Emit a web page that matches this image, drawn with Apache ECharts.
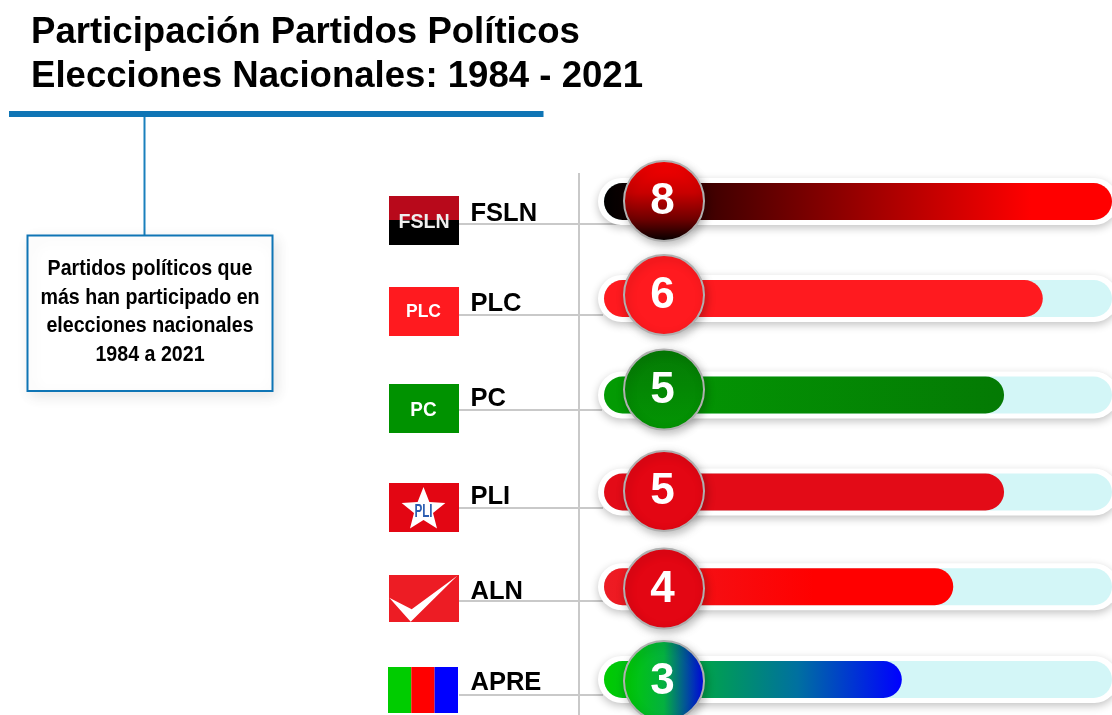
<!DOCTYPE html>
<html lang="es">
<head>
<meta charset="utf-8">
<title>Participación Partidos Políticos</title>
<style>html,body{margin:0;padding:0;background:#fff}#chart{width:1112px;height:715px}</style>
<script src="https://cdn.jsdelivr.net/npm/echarts@6/dist/echarts.min.js"></script>
</head>
<body>
<div id="chart"></div>
<script>
// ---- Data ----
const titleLines = ['Participación Partidos Políticos', 'Elecciones Nacionales: 1984 - 2021'];
const noteLines = ['Partidos políticos que', 'más han participado en', 'elecciones nacionales', '1984 a 2021'];
const parties = ['FSLN', 'PLC', 'PC', 'PLI', 'ALN', 'APRE'];
const participations = [8, 6, 5, 5, 4, 3];              // numbers printed on the badges
const barLengths = [8, 6.91, 6.3, 6.3, 5.5, 4.69];      // the drawn bars are not proportional to the badges
const fullScale = 8;

// ---- Layout ----
const rowCenters = [201.5, 298.5, 395, 492, 586.7, 679.5];
const badgeCenters = [201, 295, 389.5, 491, 588.5, 681];
const labelCenters = [214, 304, 399, 497, 592, 683];
const leaderYs = [224, 315, 410, 508, 601, 695];
const leaderEnds = [620, 603, 602, 603, 603, 603];
const logoTops = [196, 287, 384, 483, 575, 667];
const logoHeights = [49, 49, 49, 49, 47, 46];
const logoLeft = 389, logoWidth = 70;
const PAD = 6 / 63.5;                                    // white shell margin in axis units
const BADGE_X = 0.945;

const lg = (x2, y2, stops) => ({type:'linear',x:0,y:0,x2,y2,colorStops:stops.map(c=>({offset:c[0],color:c[1]}))});
const fillColors = [
  lg(1,0,[[0,'#000000'],[0.84,'#ff0000'],[1,'#ff0000']]),
  '#ff1a1f',
  lg(1,0,[[0,'#039b03'],[1,'#047a04']]),
  '#e30b17',
  lg(1,0,[[0,'#ed1c24'],[0.6,'#ff0000'],[1,'#ff0000']]),
  lg(1,0,[[0,'#00cc00'],[0.35,'#00a050'],[0.65,'#0070a0'],[1,'#0000ff']])
];
const badgeColors = [
  lg(0,1,[[0,'#ff0000'],[0.4,'#c80000'],[0.72,'#700000'],[1,'#000000']]),
  '#ff1a1f',
  lg(0,1,[[0,'#057a05'],[1,'#039503']]),
  '#e30613',
  '#e30613',
  lg(1,0,[[0,'#00cc00'],[0.5,'#04b040'],[1,'#0000e6']])
];

const FONT = '"Liberation Sans", Arial, sans-serif';
const grids = [], xAxes = [], yAxes = [], series = [];
parties.forEach((name, i) => {
  grids.push({left:598, width:520, top:rowCenters[i]-23.5, height:47, outerBoundsMode:'none'});
  xAxes.push(
    {gridIndex:i, type:'value', min:-PAD, max:fullScale+PAD, show:false},
    {gridIndex:i, type:'value', min:0, max:1, show:false}
  );
  yAxes.push(
    {gridIndex:i, type:'category', data:[name], axisLine:{show:false}, axisTick:{show:false}, splitLine:{show:false},
     axisLabel:{show:true, align:'left', margin:598-470.5, color:'#000', fontFamily:FONT, fontWeight:'bold', fontSize:25.5,
       verticalAlign:'top', lineHeight:2*(labelCenters[i]-rowCenters[i])}},
    {gridIndex:i, type:'category', data:[name], show:false}
  );
  series.push(
    {name:name+' marco', type:'bar', xAxisIndex:2*i+1, yAxisIndex:2*i+1, data:[1], barWidth:47, clip:false, silent:true, z:3,
     itemStyle:{color:'#fff', borderRadius:23.5, shadowColor:'rgba(0,0,0,0.24)', shadowBlur:9, shadowOffsetY:3}},
    {name:name+' base', type:'bar', xAxisIndex:2*i, yAxisIndex:2*i, data:[fullScale], barWidth:37, barGap:'-100%', clip:false, silent:true, z:4,
     itemStyle:{color:'#d3f6f7', borderRadius:18.5}},
    {name:name, type:'bar', xAxisIndex:2*i, yAxisIndex:2*i, data:[barLengths[i]], barWidth:37, barGap:'-100%', clip:false, z:5,
     itemStyle:{color:fillColors[i], borderRadius:18.5}},
    {name:name+' participaciones', type:'scatter', xAxisIndex:2*i, yAxisIndex:2*i, clip:false, z:6,
     data:[[BADGE_X, name, participations[i]]], encode:{x:0,y:1},
     symbol:'circle', symbolSize:80, symbolOffset:[0, badgeCenters[i]-rowCenters[i]],
     itemStyle:{opacity:1, color:badgeColors[i], borderColor:'#b0b0b0', borderWidth:2,
       shadowColor:'rgba(0,0,0,0.25)', shadowBlur:8, shadowOffsetX:2, shadowOffsetY:3},
     label:{show:true, position:'inside', formatter:p=>String(p.value[2]), color:'#fff', offset:[-1.5,1],
       fontFamily:FONT, fontWeight:'bold', fontSize:44}}
  );
});

// ---- Decorations (rules, note box, party logos) ----
const gfx = [];
const rect = (x,y,w,h,fill) => gfx.push({type:'rect',shape:{x,y,width:w,height:h},style:{fill},silent:true});
const txt = (x,y,text,size,fill,sx) => gfx.push({type:'text',x,y,scaleX:sx||1,silent:true,
  style:{text,fill,font:'bold '+size+'px '+FONT,textAlign:'center',textVerticalAlign:'middle'}});

// headline rule, connector, note box
rect(9,111,534.5,6,'#0f75b5');
rect(143.5,117,2,118,'#1a80bd');
gfx.push({type:'rect',shape:{x:27.5,y:235.5,width:245,height:155.5},silent:true,
  style:{fill:'#fff',stroke:'#0f75b5',lineWidth:2,shadowColor:'rgba(0,0,0,0.10)',shadowBlur:14,shadowOffsetX:3,shadowOffsetY:4}});
[268.5,297.5,325.5,354.5].forEach((y,i)=>txt(150,y,noteLines[i],21.8,'#000',0.9));
// title lines
[33,77].forEach((y,i)=>gfx.push({type:'text',x:31,y,silent:true,
  style:{text:titleLines[i],fill:'#000',font:'bold 36.6px '+FONT,textAlign:'left',textVerticalAlign:'middle'}}));

// vertical divider and leader lines
rect(578,173,2,542,'#c9c9c9');
leaderYs.forEach((y,i)=>rect(459,y-1,leaderEnds[i]-459,2,'#c9c9c9'));

// logos
const L = logoLeft, W = logoWidth, T = logoTops, H = logoHeights;
// FSLN
rect(L,T[0],W,24,'#b8091b'); rect(L,T[0]+24,W,H[0]-24,'#000000');
txt(L+W/2,T[0]+26,'FSLN',20,'#eeeeee',0.98);
// PLC
rect(L,T[1],W,H[1],'#ff1a1f'); txt(L+W/2-0.5,T[1]+25,'PLC',17.5,'#fff');
// PC
rect(L,T[2],W,H[2],'#009200'); txt(L+W/2-0.5,T[2]+26,'PC',21,'#fff',0.9);
// PLI
rect(L,T[3],W,H[3],'#e30613');
const cx=L+W/2-0.5, cy=T[3]+27, star=[];
for(let k=0;k<10;k++){const r=k%2?10:23,a=-Math.PI/2+k*Math.PI/5;star.push([cx+r*Math.cos(a),cy+r*Math.sin(a)]);}
gfx.push({type:'polygon',shape:{points:star},style:{fill:'#fff'},silent:true});
txt(cx,cy+2,'PLI',18,'#2a5db0',0.65);
// ALN
rect(L,T[4],W,H[4],'#ed1c24');
gfx.push({type:'polygon',shape:{points:[[L+0.3,T[4]+22.7],[L+22.7,T[4]+34.3],[L+68.3,T[4]+0.7],[L+21.7,T[4]+46.7]]},style:{fill:'#fff'},silent:true});
// APRE
rect(388,T[5],23.3,H[5],'#00cc00'); rect(411.3,T[5],23.3,H[5],'#ff0000'); rect(434.6,T[5],23.4,H[5],'#0000ff');

const chart = echarts.init(document.getElementById('chart'), null, {renderer:'canvas'});
chart.setOption({
  animation:false,
  backgroundColor:'#ffffff',
  grid:grids, xAxis:xAxes, yAxis:yAxes, series:series,
  graphic:{elements:gfx}
});
</script>
</body>
</html>
